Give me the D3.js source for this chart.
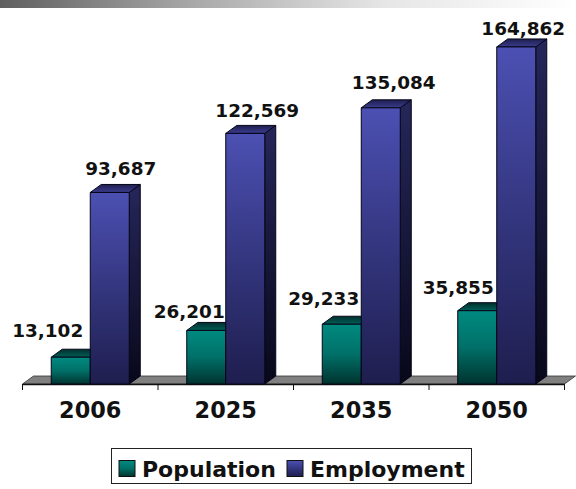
<!DOCTYPE html>
<html lang="en">
<head>
<meta charset="UTF-8">
<title>Population and Employment</title>
<script src="https://d3js.org/d3.v7.min.js"></script>
<style>
  html, body { margin: 0; padding: 0; background: #fff; }
  svg { display: block; }
  text { font-family: "DejaVu Sans", sans-serif; font-weight: bold; fill: #111; }
</style>
</head>
<body>
<div id="chart"></div>
<script>
const years = ["2006", "2025", "2035", "2050"];
const seriesNames = ["Population", "Employment"];
const population = [13102, 26201, 29233, 35855];
const employment = [93687, 122569, 135084, 164862];

const width = 576, height = 489;
const baseY = 384, depthX = 11, depthY = 8;
const fmt = d3.format(",");

// label shift from the bar's centre, per series, per year
const labelShift = {
  Population: [[-23, -20], [-17, -12], [-18, -19], [-19, -17]],
  Employment: [[11, -17], [12, -16], [13, -19], [7, -12]]
};

const svg = d3.select("#chart").append("svg")
  .attr("width", width).attr("height", height);
const defs = svg.append("defs");

function gradient(id, stops, horizontal) {
  const g = defs.append("linearGradient").attr("id", id)
    .attr("x1", 0).attr("y1", 0)
    .attr("x2", horizontal ? 1 : 0).attr("y2", horizontal ? 0 : 1);
  stops.forEach((c, i) => g.append("stop")
    .attr("offset", i / (stops.length - 1)).attr("stop-color", c));
}
gradient("banner", ["#5f5f5f", "#a8a8a8", "#e6e6e6", "#ffffff"], true);
gradient("PopulationFront", ["#008a80", "#007068", "#00332f"]);
gradient("PopulationSide", ["#003f3a", "#001a18"]);
gradient("PopulationTop", ["#002f2c", "#005f58"]);
gradient("EmploymentFront", ["#4c50b2", "#34367f", "#1e1e4e"]);
gradient("EmploymentSide", ["#26265a", "#08081a"]);
gradient("EmploymentTop", ["#1f1f50", "#3a3c8c"]);

// banner along the top edge
svg.append("rect").attr("width", width).attr("height", 8).attr("fill", "url(#banner)");

const x = d3.scaleBand().domain(years).range([22.5, 564.5]);
const inner = d3.scaleBand().domain(seriesNames).range([0, x.bandwidth()]).paddingOuter(0.737);
const y = d3.scaleLinear().domain([0, 180000]).range([baseY, 16]);

// floor
const line = d3.line();
svg.append("path")
  .attr("d", line([
    [x.range()[0], baseY],
    [x.range()[0] + depthX, baseY - depthY],
    [x.range()[1] + depthX, baseY - depthY],
    [x.range()[1], baseY]
  ]) + "Z")
  .attr("fill", "#808080").attr("stroke", "#333").attr("stroke-width", 0.8);

// axis: labels from d3, ticks sit on the band edges
const axis = svg.append("g").attr("transform", `translate(0,${baseY})`)
  .call(d3.axisBottom(x).tickSize(0).tickPadding(18));
axis.select(".domain").attr("stroke", "#111").attr("stroke-width", 1.4);
axis.selectAll("text").style("font-size", "22.4px").style("font-family", null);
axis.attr("font-family", null).attr("font-size", null);
svg.selectAll(".edge")
  .data(years.map(d => x(d)).concat(x.range()[1]))
  .enter().append("line")
  .attr("x1", d => d).attr("x2", d => d)
  .attr("y1", baseY).attr("y2", baseY + 6)
  .attr("stroke", "#111");

// bars
const rows = years.flatMap((yr, i) => [
  { yr, i, name: "Population", v: population[i] },
  { yr, i, name: "Employment", v: employment[i] }
]);
const bar = svg.selectAll(".bar").data(rows).enter().append("g").attr("class", "bar");
const left = d => x(d.yr) + inner(d.name);
const w = inner.bandwidth();

bar.append("path").attr("d", d => {
  const x0 = left(d) + w, t = y(d.v);
  return line([[x0, t], [x0 + depthX, t - depthY], [x0 + depthX, baseY - depthY], [x0, baseY]]) + "Z";
}).attr("fill", d => `url(#${d.name}Side)`);

bar.append("path").attr("d", d => {
  const x0 = left(d), t = y(d.v);
  return line([[x0, t], [x0 + depthX, t - depthY], [x0 + w + depthX, t - depthY], [x0 + w, t]]) + "Z";
}).attr("fill", d => `url(#${d.name}Top)`);

bar.append("rect")
  .attr("x", left).attr("y", d => y(d.v))
  .attr("width", w).attr("height", d => baseY - y(d.v))
  .attr("fill", d => `url(#${d.name}Front)`);

bar.selectAll("path,rect").attr("stroke", "#050518").attr("stroke-width", 1).attr("stroke-linejoin", "round");

// value labels go last so they stay above neighbouring bars
svg.selectAll(".val").data(rows).enter().append("text")
  .attr("class", "val")
  .attr("text-anchor", "middle")
  .attr("x", d => left(d) + w / 2 + labelShift[d.name][d.i][0])
  .attr("y", d => y(d.v) + labelShift[d.name][d.i][1])
  .style("font-size", "18.4px")
  .text(d => fmt(d.v));

// legend
const legend = svg.append("g");
legend.append("rect")
  .attr("x", 111.5).attr("y", 448.5).attr("width", 360).attr("height", 35)
  .attr("fill", "#fff").attr("stroke", "#222");
const legendX = d3.scaleOrdinal().domain(seriesNames).range([119, 287]);
const item = legend.selectAll(".item").data(seriesNames).enter().append("g").attr("class", "item");
item.append("rect")
  .attr("x", d => legendX(d)).attr("y", 460.5).attr("width", 16).attr("height", 16)
  .attr("fill", d => `url(#${d}Front)`).attr("stroke", "#111");
item.append("text")
  .attr("x", d => legendX(d) + 23).attr("y", 477)
  .style("font-size", "22px")
  .text(d => d);
</script>
</body>
</html>
